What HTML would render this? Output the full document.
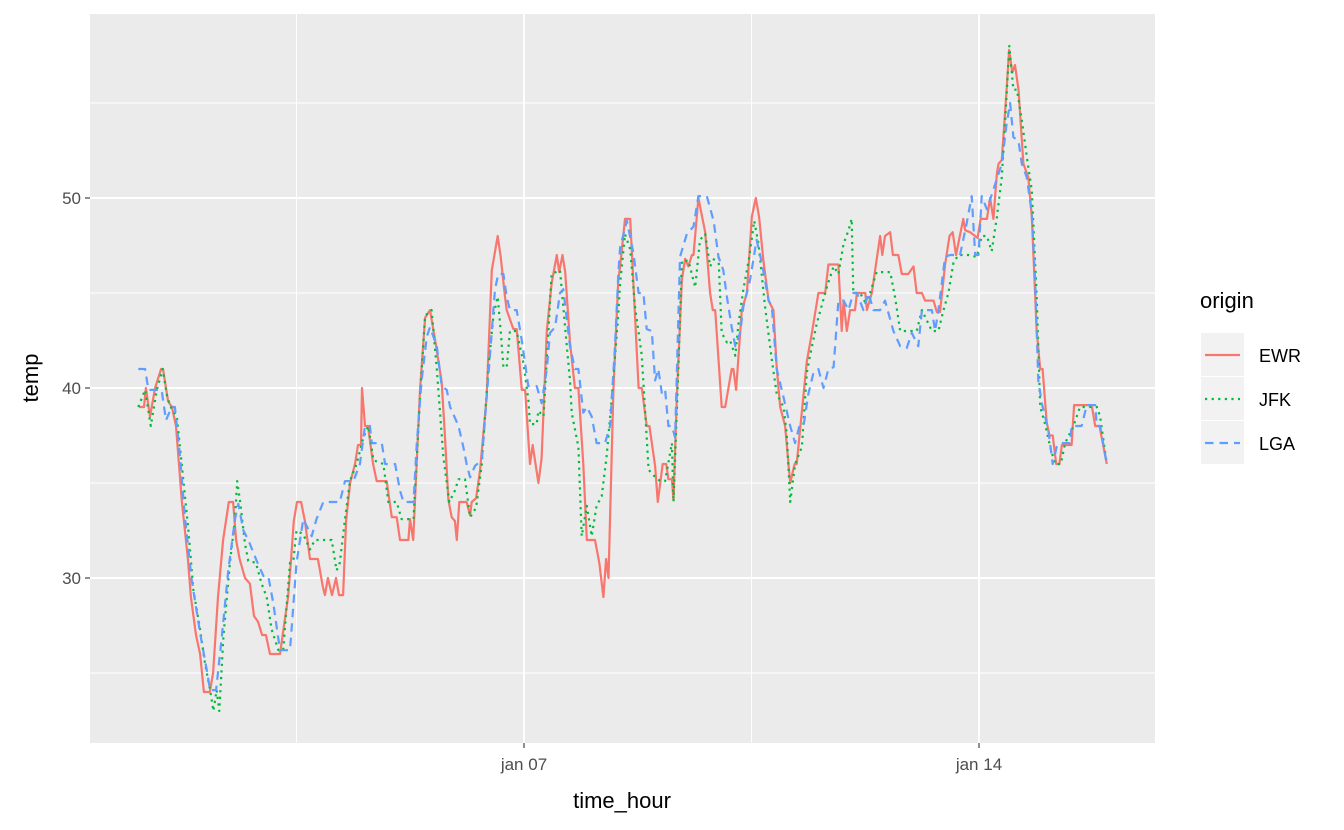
<!DOCTYPE html>
<html><head><meta charset="utf-8">
<style>
html,body{margin:0;padding:0;background:#fff;}
svg{display:block;font-family:"Liberation Sans",Arial,sans-serif;}
</style></head>
<body>
<svg id="chart" width="1344" height="830" viewBox="0 0 1344 830" xmlns="http://www.w3.org/2000/svg">
<rect x="90" y="14" width="1065" height="729" fill="#ebebeb"/>
<g id="grid"></g>
<g id="series"></g>
<g id="axes"></g>
<text x="622" y="808" font-size="22" text-anchor="middle" fill="#000">time_hour</text>
<text x="0" y="0" font-size="22" text-anchor="middle" fill="#000" transform="translate(38,378) rotate(-90)">temp</text>
<g>
<text x="1200" y="308" font-size="22" fill="#000">origin</text>
<rect x="1201" y="333" width="43" height="43" fill="#f2f2f2"/>
<rect x="1201" y="377" width="43" height="43" fill="#f2f2f2"/>
<rect x="1201" y="421" width="43" height="43" fill="#f2f2f2"/>
<line x1="1205" y1="355" x2="1240" y2="355" stroke="#F8766D" stroke-width="2.2"/>
<line x1="1205" y1="399" x2="1240" y2="399" stroke="#00BA38" stroke-width="2.2" stroke-dasharray="2.2,4.4"/>
<line x1="1205" y1="443" x2="1240" y2="443" stroke="#619CFF" stroke-width="2.2" stroke-dasharray="8.5,6"/>
<text x="1259" y="362" font-size="18" fill="#000">EWR</text>
<text x="1259" y="406" font-size="18" fill="#000">JFK</text>
<text x="1259" y="450" font-size="18" fill="#000">LGA</text>
</g>
</svg>
<script>
// hours since jan 01 00:00
const ewrHours=[1.8,3.7,4.4,5.9,7.8,10,10.7,12.6,14,15.5,17.7,19.9,21,22.9,24.4,25.8,28,29.2,31,32.9,35,36.6,37.7,39,41,42.8,44.3,45.8,47.3,48.7,50.2,53.9,55.4,56.9,58,59,60.2,61.7,63.1,65,66.5,67.9,69.8,70.5,71.6,73.1,74.6,75.7,77.2,78.3,79.8,81.6,82.7,83.8,84.2,85.3,86.4,88.3,89.6,93.3,95.2,97,98.2,101.3,101.9,103.1,105.6,107.5,109.3,111.2,113.6,114.8,116.1,117.3,118.5,119.2,120.1,122.8,124.1,124.7,126.3,127.8,130.2,132.1,134.3,135.4,137,137.6,140.1,141.3,143.2,144.4,146.2,147.2,149.3,150.5,152.4,154.2,156.1,157,158.2,159.2,161,162.8,164.1,165.9,167.2,170.2,171.8,173.3,174.3,175.2,177,178.8,179.5,181.3,183.2,186.3,187.5,189.3,190.3,192.4,193.4,195.2,196.5,197.3,198.6,199.2,200.4,202.3,203.5,204.7,206,206.6,208.4,210.9,212.7,213.7,214.6,217,218.3,220.7,221.3,222.3,224.4,226.3,228.1,229.6,230.8,232.4,234.3,236.1,237.3,238.6,240.4,242.3,243.9,244.7,248.4,250.3,252.7,255.2,256.4,260.1,261.3,262,263.2,264.4,266.2,266.9,270,270.6,272.4,275.5,276.3,277.3,279.2,280.2,282.2,283.5,285.9,287.8,289,290.9,292.1,295.2,296.4,297.6,299.5,301.1,302.3,303.5,306.2,306.9,308.7,310.6,311.5,312.6,314.9,316.1,317.3,318.6,319.2,320.4,322.2,323.1,324.3,325.3,326.6,328.4,330.2,331.5,333.3,334.6,335.5,337,338,339.2,340.5,341.7,342.6,346.2,347.1,353.6,354.9,356.5,359.2];
const ewrTemps=[39,39,40,38.5,40,41,41,39.3,39,38,34,31,29,27,26,24,24,25,29,32,34,34,32,31,30,29.7,28,27.7,27,27,26,26,27.5,29,31,33,34,34,33,31,31,31,29.5,29.1,30,29.1,30,29.1,29.1,33,35,36,37,37,40,38,38,36,35.1,35.1,33.2,33.2,32,32,33.1,32,39.9,43.7,44.1,42.5,40.3,37.5,34.1,33.2,33,32,34,34,33.3,34,34.2,35.7,39.5,46.2,48,46.9,44.8,44.1,43.1,43.1,39.9,39.9,36,37,35,36.3,43,45.5,47,46.1,47,46.1,42.4,40,40,36,32,32,30.8,29,31,30,39.9,45.7,46.4,48.9,48.9,40,40,38,38,35.9,34,36,36,35.2,35.2,34.1,39.5,45.7,46.8,46.4,47,47,50,48.2,45,44.1,44.1,39,39,41,41,39.9,44.1,45,49,50,49,46.7,44.6,44.1,41.1,39,38,35,36,36,41.4,42.9,45,45,46.5,46.5,43,44.6,43,44.1,44.1,45,45,44.1,45,48,47,48,48.2,47,47,46,46,46.4,45,45,44.6,44.6,44,44,46.5,48,48.2,47,48.9,48.3,48.2,48,47.9,48.9,48.9,50,48.9,51.3,51.8,52,55.7,57.8,56.6,57,55.7,51.8,51.1,49,43,41,41,38.2,37.5,37.5,36,36,37,37,39.1,39.1,38,38,36];
const jfkHours=[1.6,4.1,6.2,8.4,10.6,12.3,13.9,15.8,17.6,20.1,21.9,24.4,26.2,28.1,29.3,30.5,31.5,33,35.4,37.3,38.1,39.1,41,42.2,45,47.1,49,50.8,53.3,55.1,57.6,58.8,60,62.5,65,66.8,73,74.8,76,77.9,79.7,82.2,84.7,86.5,88.4,92.1,93.9,97,98.8,103.2,105.6,107.5,109.9,111.8,114.2,116.4,118.5,119.8,122.2,124.1,126.3,128.4,130.8,132.7,134.3,135.4,136.4,137.6,138.8,141.3,143.8,145.6,146.2,148.7,149.3,151.2,153,154.2,157.3,159.8,161,161.6,164.1,165.3,167.2,169,170.8,172.7,174.5,176.4,178.8,179.5,181.3,183.2,185,187.5,190,191.8,194.3,196.1,198.6,199.2,201,202.3,204.7,207.2,209,210.9,212.7,214.6,215.8,217,218.9,220.1,222,223.2,225,227.2,229,230.6,233,235.5,237.3,239.8,241,242.3,244.1,246.6,248.4,249.6,252.1,255.8,258.3,260.1,262,263.8,265,265.6,268.1,270,271.8,274.2,279.2,281,282.9,289,290.9,294.6,297,298.9,300.7,302.6,304.4,308.1,311.2,313,314.9,316.7,318.6,320.4,321.6,323.2,324.7,326,327.8,329.6,331.5,333.3,334.6,336.4,338.3,340.1,342.2,343.8,346.9,349.3,355.5,356.7,359.2];
const jfkTemps=[39,39.9,38,39.9,41,39.5,38.9,38.5,36,32.5,29.4,27.3,25.5,24.1,23,24.1,23,26.9,30.8,33.1,35.1,34.1,31.8,30.9,30.8,29.7,29,27.3,26.2,26.2,30.8,30.9,32.5,32.3,31.5,32,32,30.4,30.8,33.1,35.1,36,37.4,38,36.2,36,34,34,33.1,33.1,39.5,43.8,44.1,41,36.4,34,34.6,35.2,35.2,33.2,33.7,36,41,43.8,44.8,43,41.1,41.1,43,43,41.3,39.4,38.1,38.1,38.8,38.5,43,46,46.2,42.2,40.4,38.7,36.9,32.2,33.8,32.2,33.8,34.3,36.4,39.5,43.9,45.5,48.1,47.3,44.3,41.7,35.7,35.4,35.1,35.1,37.1,34,41.1,46.7,46.7,45.3,47.8,48.1,46.4,46.9,46.9,42.9,42.4,42.5,41.7,43.4,45.2,46.9,48.8,47.6,44.3,41.5,39.7,39,37.6,34,36,36.9,40.8,41.7,43.4,45.3,46.4,46,47.6,48.3,48.9,45,45,44.5,45,46.1,46.1,44.8,43,43,44.1,43,43,44.1,45,46.6,47,47,46.9,48,48,47.2,49,51.1,53.9,58,55.7,55.7,54.1,52.2,50.4,44.8,39,38.1,36.9,36,36,37.1,38,39,39,38.5,36];
const lgaHours=[1.6,4.1,5.3,10.2,11.8,13.9,15.1,17,18.8,21.3,24.4,26.8,28.1,30.3,32.4,34.8,37.3,38.5,40.4,42.2,45.3,47.8,49.6,51.4,53.9,57.6,60,62.5,65.6,67.4,69.9,76,77.9,81,83.4,85.3,87.1,87.8,91.5,92.7,96.4,98.2,99.5,103.2,104.4,106.2,108.1,109.3,111.8,113.6,115.5,116.7,119.8,121.6,122.8,124.1,125.9,128.4,130.8,133.3,134.5,136.4,137.6,138.8,141.3,143.2,145.6,148.7,150.5,152.4,153.6,155.5,157.3,158.5,161,162.8,164.1,165.9,167.2,169,170.8,173.9,175.8,177.6,178.8,179.5,182,184.4,186.3,188.1,189.3,191.2,192.4,193.6,194.9,196.1,197.3,198.6,199.8,201.6,204.1,206.6,208.4,211.5,214,215.8,217.6,218.9,220.7,222,223.8,225,227.5,229.9,231.8,234.3,235.5,237.3,239.2,242.3,244.1,245.7,247.2,249,250.9,252.7,254.6,256.4,258.3,260.1,262,263.8,265.6,266.9,269.3,271.2,273,275.5,277.3,280.4,282.9,285.3,287.2,289.6,290.9,294.6,295.8,297,299.5,301.3,305,307.5,309.3,310.6,311.8,313,314.9,320.4,322.2,323.5,324.7,326.6,327.8,329.6,331.5,332.7,333.9,335.2,337.6,339.2,340.7,341.9,345.6,346.2,349.9,351.8,354.9,355.5,356.7,359.2];
const lgaTemps=[41,41,39.9,39.9,38.3,39,39,36.4,33.2,29.9,27.1,25.2,24.1,24.1,26.9,30.4,33.1,33.9,32.5,32,30.9,30.1,30.1,28.7,26.2,26.2,30.8,33.1,32.2,33.1,34,34,35.1,35.1,36,38,38,37.1,37.1,36,36,34.6,34,34,37.1,40.4,42.7,43.2,42.2,40.1,39.9,39,38,36.9,36,35.3,35.9,36.2,40.6,45.2,46,46,44.8,44.1,44.1,42.5,40.1,40.1,39.2,41,42.9,43.2,45,45.2,42.2,41,41,38.7,39,38.5,37.1,37.1,38,42.2,46,47.4,48.8,47.1,45,45,43.1,43,40.4,41,39.7,39.9,38,38,37.4,46.9,48.1,48.5,50.1,50.1,48.8,46.9,46.2,44.8,43.2,42.2,42.9,44.3,45.7,47.8,46.6,44.6,44.3,41,39.9,38,37.1,38,38,39.7,40.8,41,40,41,41.1,44.6,44.6,44.1,45,45,44.1,45,44.1,44.1,44.6,43,42.2,42.1,42.9,42.2,44.1,44.1,43,44.1,46.9,47,47,48.7,50.1,47,47,50.1,49.4,51.8,53.9,55,53.2,53,51.8,51.1,49.2,45.7,40.4,39.2,37.8,36,36.9,37.1,37.1,38,38,39.1,39.1,38,38,36];
const yTicks=[30,40,50];
const yMinor=[25,35,45,55];
const xTickHours=[144,312];
const xTickLabels=["jan 07","jan 14"];
const xMinorHours=[60,228];

const NS="http://www.w3.org/2000/svg";
function sx(h){return 134+h*(455/168);}
function sy(t){return 388-(t-40)*19;}
function mk(tag,attrs,parent){const e=document.createElementNS(NS,tag);for(const k in attrs)e.setAttribute(k,attrs[k]);parent.appendChild(e);return e;}
const grid=document.getElementById('grid'),axes=document.getElementById('axes'),series=document.getElementById('series');
yMinor.forEach(v=>{const l=mk('line',{x1:90,x2:1155,y1:sy(v),y2:sy(v),stroke:'#fff','stroke-width':0.9},grid);

});
xMinorHours.forEach(v=>{const l=mk('line',{x1:sx(v),x2:sx(v),y1:14,y2:743,stroke:'#fff','stroke-width':0.9},grid);

});
yTicks.forEach(v=>{const l=mk('line',{x1:90,x2:1155,y1:sy(v),y2:sy(v),stroke:'#fff','stroke-width':1.9},grid);


const t=mk('line',{x1:85,x2:90,y1:sy(v),y2:sy(v),stroke:'#333','stroke-width':1.1},axes);


const tx=mk('text',{x:81,y:sy(v)+6,'font-size':17,'text-anchor':'end',fill:'#4d4d4d'},axes);tx.textContent=v;

});
xTickHours.forEach((v,i)=>{const l=mk('line',{x1:sx(v),x2:sx(v),y1:14,y2:743,stroke:'#fff','stroke-width':1.9},grid);


const t=mk('line',{x1:sx(v),x2:sx(v),y1:743,y2:748,stroke:'#333','stroke-width':1.1},axes);


const tx=mk('text',{x:sx(v),y:770,'font-size':17,'text-anchor':'middle',fill:'#4d4d4d'},axes);tx.textContent=xTickLabels[i];

});
function drawLine(hours,temps,color,dash,name){
  const d=hours.map((h,i)=>(i?'L':'M')+sx(h).toFixed(1)+','+sy(temps[i]).toFixed(1)).join('');
  const p=mk('path',{d:d,fill:'none',stroke:color,'stroke-width':2.2,'stroke-linejoin':'round'},series);
  if(dash)p.setAttribute('stroke-dasharray',dash);
  
  
}
drawLine(ewrHours,ewrTemps,'#F8766D',null,'ewr-line');
drawLine(jfkHours,jfkTemps,'#00BA38','2.2,4.4','jfk-line');
drawLine(lgaHours,lgaTemps,'#619CFF','8.5,6','lga-line');
</script>
</body></html>
